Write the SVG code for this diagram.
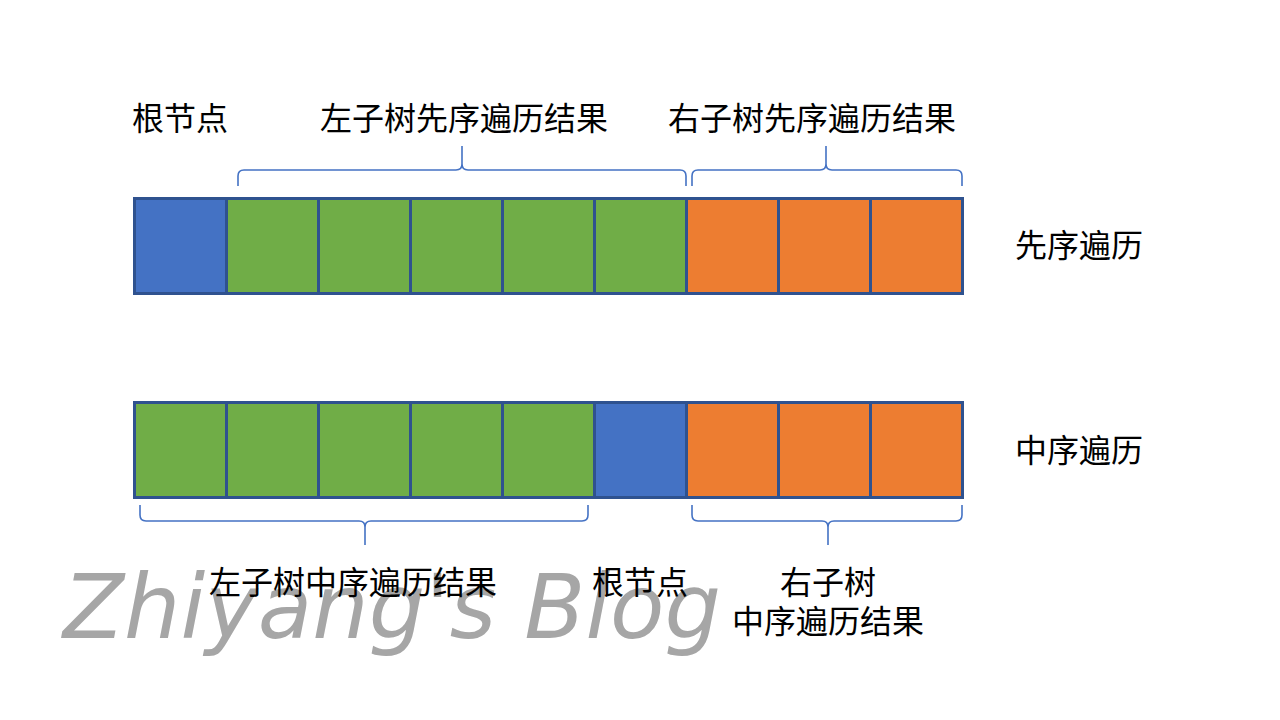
<svg xmlns="http://www.w3.org/2000/svg" width="1280" height="720" viewBox="0 0 1280 720">
<style>
.cell{stroke:#2F528F;stroke-width:3}
.b{fill:#4472C4}.g{fill:#70AD47}.o{fill:#ED7D31}
.brace{fill:none;stroke:#4472C4;stroke-width:1.6}
.t{font-family:"Noto Sans CJK SC","Noto Sans",sans-serif;font-size:32px;fill:#000;text-anchor:middle;dominant-baseline:central}
.wm{font-family:"DejaVu Sans",sans-serif;font-style:italic;font-size:89px;fill:#A6A6A6}
</style>
<rect width="1280" height="720" fill="#fff"/>
<g id="preorder">
<rect class="cell b" x="134.5" y="198.5" width="92" height="95"/>
<rect class="cell g" x="226.5" y="198.5" width="92" height="95"/>
<rect class="cell g" x="318.5" y="198.5" width="92" height="95"/>
<rect class="cell g" x="410.5" y="198.5" width="92" height="95"/>
<rect class="cell g" x="502.5" y="198.5" width="92" height="95"/>
<rect class="cell g" x="594.5" y="198.5" width="92" height="95"/>
<rect class="cell o" x="686.5" y="198.5" width="92" height="95"/>
<rect class="cell o" x="778.5" y="198.5" width="92" height="95"/>
<rect class="cell o" x="870.5" y="198.5" width="92" height="95"/>
</g>
<g id="inorder">
<rect class="cell g" x="134.5" y="402.5" width="92" height="95"/>
<rect class="cell g" x="226.5" y="402.5" width="92" height="95"/>
<rect class="cell g" x="318.5" y="402.5" width="92" height="95"/>
<rect class="cell g" x="410.5" y="402.5" width="92" height="95"/>
<rect class="cell g" x="502.5" y="402.5" width="92" height="95"/>
<rect class="cell b" x="594.5" y="402.5" width="92" height="95"/>
<rect class="cell o" x="686.5" y="402.5" width="92" height="95"/>
<rect class="cell o" x="778.5" y="402.5" width="92" height="95"/>
<rect class="cell o" x="870.5" y="402.5" width="92" height="95"/>
</g>
<g id="braces">
<path class="brace" d="M238,186 L238,176 Q238,170 244,170 L456,170 Q462,170 462,164 L462,146 L462,164 Q462,170 468,170 L680,170 Q686,170 686,176 L686,186"/>
<path class="brace" d="M692,186 L692,176 Q692,170 698,170 L820,170 Q826,170 826,164 L826,146 L826,164 Q826,170 832,170 L956,170 Q962,170 962,176 L962,186"/>
<path class="brace" d="M140,505 L140,515 Q140,521 146,521 L359,521 Q365,521 365,527 L365,545 L365,527 Q365,521 371,521 L582,521 Q588,521 588,515 L588,505"/>
<path class="brace" d="M692,505 L692,515 Q692,521 698,521 L822,521 Q828,521 828,527 L828,545 L828,527 Q828,521 834,521 L956,521 Q962,521 962,515 L962,505"/>
</g>
<text class="wm" x="63" y="638">Zhiyang's Blog</text>
<g id="labels">
<text class="t" x="180" y="116">根节点</text>
<text class="t" x="464" y="116">左子树先序遍历结果</text>
<text class="t" x="812" y="116">右子树先序遍历结果</text>
<text class="t" x="1079" y="243">先序遍历</text>
<text class="t" x="1079" y="448">中序遍历</text>
<text class="t" x="353" y="580">左子树中序遍历结果</text>
<text class="t" x="640" y="580">根节点</text>
<text class="t" x="828" y="580">右子树</text>
<text class="t" x="828" y="619">中序遍历结果</text>
</g>
</svg>
